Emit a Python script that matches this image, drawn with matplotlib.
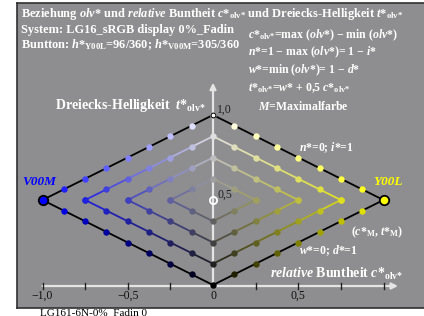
"""
Relative Buntheit c* und Dreiecks-Helligkeit t* (LG16, sRGB display).
"""

import numpy as np
import matplotlib
matplotlib.use("Agg")
import matplotlib.pyplot as plt

W, H = 424, 316
BG = "#8e8e90"

# Buntheitsstufen c* und Halbbreiten der Rauten
c_stufen = [0.0, 0.125, 0.25, 0.375, 0.5, 0.625, 0.75, 0.875, 1.0]
rauten = [0.25, 0.5, 0.75, 1.0]
# Punkte auf der Grauachse (c* = 0)
achse_t = [0.0, 0.125, 0.25, 0.375, 0.625, 0.75, 0.875, 1.0]
# Maximalfarben: Seite (-1 links, +1 rechts) und sRGB
seiten = [-1, 1]
max_rgb = [(0.0, 0.0, 1.0), (1.0, 1.0, 0.0)]
max_namen = ["V00M", "Y00L"]
tick_pos = [-1.0, -0.75, -0.5, -0.25, 0.0, 0.25, 0.5, 0.75, 1.0]
tick_lab_pos = [-1.0, -0.5, 0.0, 0.5]
tick_lab = ["\u22121,0", "\u22120,5", "0", "0,5"]

plt.rcParams["font.family"] = ["Liberation Serif", "DejaVu Serif"]
plt.rcParams["mathtext.fontset"] = "custom"
plt.rcParams["mathtext.rm"] = "Liberation Serif:bold"
plt.rcParams["mathtext.it"] = "Liberation Serif:italic:bold"
plt.rcParams["mathtext.bf"] = "Liberation Serif:bold"

OLV = r"$_\text{olv*}$"
MINUS = "\u2212"


def farbe(c, t, m):
    w = t - c / 2.0
    return tuple(np.clip([w + c * k for k in m], 0, 1))


def px(x, y):
    return x / W, 1 - y / H


fig = plt.figure(figsize=(W / 100, H / 100), dpi=100)
fig.patch.set_facecolor("white")
ax = fig.add_axes([17 / W, 8 / H, (W - 17) / W, 305 / H])
ax.set_facecolor(BG)
x0 = 213.0
sx = 170.5
ax.set_xlim((17 - x0) / sx, (W - x0) / sx)
ax.set_ylim((285 - 308) / 170.0, (285 - 3) / 170.0)
ax.set_xticks([])
ax.set_yticks([])
for s in ["left", "top", "bottom"]:
    ax.spines[s].set_color("#303030")
    ax.spines[s].set_linewidth(1.2)
ax.spines["right"].set_visible(False)

# Achsen
ax.annotate("", xy=(1.085, -0.006), xytext=(-1.0, -0.006),
            arrowprops=dict(arrowstyle="-|>", color="#e4e4e4", lw=1.6,
                            mutation_scale=9, shrinkA=0, shrinkB=0), zorder=2)
ax.annotate("", xy=(0, 1.19), xytext=(0, -0.006),
            arrowprops=dict(arrowstyle="-|>", color="#e4e4e4", lw=1.6,
                            mutation_scale=9, shrinkA=0, shrinkB=0), zorder=2)
for tp in tick_pos:
    if tp != 0:
        ax.plot([tp, tp], [-0.022, 0.014], color="#202020", lw=1.0, zorder=3)
for tp, tl in zip(tick_lab_pos, tick_lab):
    ax.text(tp, -0.065, tl, ha="center", va="center", fontsize=8.5,
            color="#101010")

# Rauten
for s, m in zip(seiten, max_rgb):
    for a in rauten:
        cs = [c for c in c_stufen if c <= a + 1e-9]
        for kante in (1, -1):
            ts = [0.5 + kante * (a / 2 - c / 2) for c in cs]
            for i in range(len(cs) - 1):
                if a == 1.0:
                    lc = "black"
                else:
                    cm = (cs[i] + cs[i + 1]) / 2
                    tm = (ts[i] + ts[i + 1]) / 2
                    lc = farbe(cm, tm, m)
                ax.plot([s * cs[i], s * cs[i + 1]], [ts[i], ts[i + 1]],
                        color=lc, lw=1.3, zorder=3, solid_capstyle="round")
            for c, t in zip(cs, ts):
                if c == 0 or c == 1.0:
                    continue
                ax.plot(s * c, t, "o", ms=4.6, mfc=farbe(c, t, m),
                        mec="none", zorder=4)
    ax.plot(s * 1.0, 0.5, "o", ms=6.8, mfc=m, mec="black", mew=1.3,
            zorder=5)

for t in achse_t:
    ax.plot(0, t, "o", ms=4.6, mfc=(t, t, t), mec="none", zorder=4)
ax.plot(0, 0.5, "o", ms=5.2, mfc="none", mec="white", mew=1.3, zorder=5)
ax.plot(0, 1.0, "o", ms=3.5, mfc="white", mec="black", mew=0.8, zorder=5)

# Texte
kw = dict(color="white", fontweight="bold", va="center", ha="left")
fig.text(*px(21, 14), "Beziehung $olv$* und $relative$ Buntheit $c$*" + OLV
         + " und Dreiecks-Helligkeit $t$*" + OLV, fontsize=8.9, **kw)
fig.text(*px(21, 30), "System: LG16_sRGB display 0%_Fadin", fontsize=8.9, **kw)
fig.text(*px(21, 45), r"Buntton: $h$*$_\text{Y00L}$=96/360; "
         r"$h$*$_\text{V00M}$=305/360", fontsize=8.9, **kw)
fig.text(*px(248, 35), "$c$*" + OLV + "=max ($olv$*) " + MINUS
         + " min ($olv$*)", fontsize=8.5, **kw)
fig.text(*px(248, 52), "$n$*=1 " + MINUS + " max ($olv$*)= 1 " + MINUS
         + " $i$*", fontsize=8.5, **kw)
fig.text(*px(248, 70), "$w$*=min ($olv$*)= 1 " + MINUS + " $d$*",
         fontsize=8.5, **kw)
fig.text(*px(248, 88), "$t$*" + OLV + "=$w$* + 0,5 $c$*" + OLV,
         fontsize=8.5, **kw)
fig.text(*px(258, 107), "$M$=Maximalfarbe", fontsize=8.5, **kw)

fig.text(*px(55, 105), "Dreiecks-Helligkeit  $t$*" + OLV, fontsize=10, **kw)
fig.text(*px(270, 274), "$relative$ Buntheit $c$*" + OLV, fontsize=10, **kw)
fig.text(*px(299, 148), "$n$*=0; $i$*=1", fontsize=8.5, **kw)
fig.text(*px(299, 251), "$w$*=0; $d$*=1", fontsize=8.5, **kw)
fig.text(*px(351, 232), r"($c$*$_\text{M}$, $t$*$_\text{M}$)",
         fontsize=8.5, **kw)
fig.text(*px(217, 110), "1,0", fontsize=8.5, color="#202020", va="center")
fig.text(*px(217, 195), "0,5", fontsize=8.5, color="#202020", va="center")
fig.text(*px(22, 182), "V00M", fontsize=9.5, color="#0000ff",
         fontweight="bold", style="italic", va="center")
fig.text(*px(373, 182), "Y00L", fontsize=9.5, color="#ffff00",
         fontweight="bold", style="italic", va="center")
fig.text(*px(40, 313), "LG161-6N-0%_Fadin 0", fontsize=8,
         color="black", va="center")

fig.savefig("out.png", dpi=100, facecolor="white")
